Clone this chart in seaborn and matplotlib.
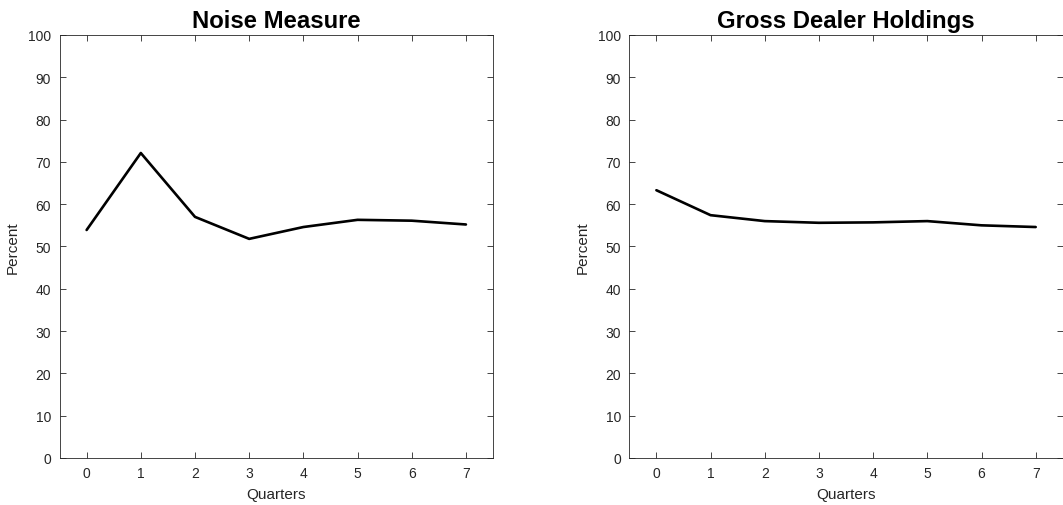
import numpy as np
import matplotlib
matplotlib.use("Agg")
import matplotlib.pyplot as plt
import pandas as pd
import seaborn as sns

quarters = [0, 1, 2, 3, 4, 5, 6, 7]
noise = [53.9, 72.1, 57.0, 51.8, 54.6, 56.3, 56.1, 55.2]
dealer = [63.3, 57.4, 56.0, 55.6, 55.7, 56.0, 55.0, 54.6]
titles = ["Noise Measure", "Gross Dealer Holdings"]
yticks = list(range(0, 101, 10))

sns.set_style("ticks")
plt.rcParams['font.family'] = ['Liberation Sans', 'DejaVu Sans']

fig = plt.figure(figsize=(10.63, 5.06), dpi=100)
ax1 = fig.add_axes([0.056, 0.0929, 0.4078, 0.836])
ax2 = fig.add_axes([0.592, 0.0929, 0.4078, 0.836])

grey = "#262626"
for ax, vals, title in zip([ax1, ax2], [noise, dealer], titles):
    df = pd.DataFrame({"Quarters": quarters, "Percent": vals})
    sns.lineplot(data=df, x="Quarters", y="Percent", color="black", linewidth=1.9, ax=ax)
    ax.set_xlim(-0.5, 7.5)
    ax.set_ylim(0, 100)
    ax.set_xticks(quarters)
    ax.set_yticks(yticks)
    ax.set_title(title, fontsize=17.2, fontweight="bold", color="black", pad=6)
    ax.set_xlabel("Quarters", fontsize=11, color=grey, labelpad=5)
    ax.set_ylabel("Percent", fontsize=11, color=grey, labelpad=6)
    ax.tick_params(direction="in", length=4, width=0.6, top=True, right=True,
                   labelsize=10, colors=grey, pad=6)
    for s in ax.spines.values():
        s.set_color(grey)
        s.set_linewidth(0.6)
        s.set_visible(True)

fig.savefig("out.png", dpi=100)
